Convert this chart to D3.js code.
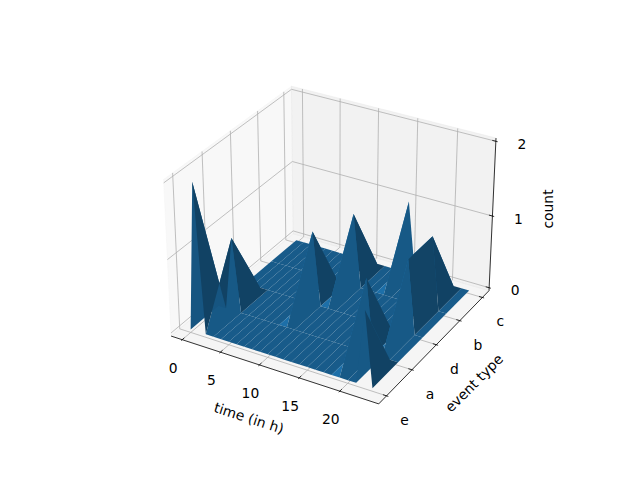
<!DOCTYPE html>
<html>
<head>
<meta charset="utf-8">
<style>html,body{margin:0;padding:0;background:#fff}svg{display:block}text{font-family:"DejaVu Sans",sans-serif;font-size:13.89px;fill:#000}</style>
<script src="https://cdnjs.cloudflare.com/ajax/libs/d3/7.8.5/d3.min.js"></script>
</head>
<body>
<svg id="chart" width="640" height="480"></svg>
<script>
// --- data ---
const hours = [0,1,2,3,4,5,6,7,8,9,10,11,12,13,14,15,16,17,18,19,20,21,22,23];
const rowPositions = [0,1,2,3,4];
const rowFront0 = [0,2,0,0,0,0,0,0,0,0,0,0,0,0,0,0,0,0,0,0,0,0,1,0];
const rowFront1 = [0,0,1,0,0,0,0,0,0,0,0,0,0,0,0,0,0,0,0,1,0,0,0,0];
const rowFront2 = [0,0,0,0,0,0,0,0,0,1,0,0,0,0,0,0,0,0,0,0,0,1,0,0];
const rowFront3 = [0,0,0,0,0,0,0,0,0,0,0,1,0,0,0,0,0,0,0,0,0,1,0,0];
const rowFront4 = [0,0,0,0,0,0,0,0,0,0,0,0,0,0,0,1,0,0,0,0,0,0,0,0];
const counts = [rowFront0,rowFront1,rowFront2,rowFront3,rowFront4];
const xTicks = [0,5,10,15,20];
const yTickPos = [0,1,2,3,4];
const yTickLabels = ["e","a","d","b","c"];
const zTicks = [0,1,2];
const xLabel = "time (in h)", yLabel = "event type", zLabel = "count";

// --- scales & projection (matplotlib style) ---
const xBox = [-1.47,24.7], yBox = [-0.3,4.3], zBox = [-0.042,2.042];
const norm = Math.hypot(4,4,3), k = 1.8294640721620434*25/24/norm;
const aspect = [4*k,4*k,3*k];
const sx = d3.scaleLinear().domain(xBox).range([0,aspect[0]]);
const sy = d3.scaleLinear().domain(yBox).range([0,aspect[1]]);
const sz = d3.scaleLinear().domain(zBox).range([0,aspect[2]]);
const elev = 30*Math.PI/180, azim = -60*Math.PI/180, dist = 10;
const R = aspect.map(a=>a/2);
const dir = [Math.cos(elev)*Math.cos(azim),Math.cos(elev)*Math.sin(azim),Math.sin(elev)];
const eye = R.map((r,i)=>r+dist*dir[i]);
const cross=(a,b)=>[a[1]*b[2]-a[2]*b[1],a[2]*b[0]-a[0]*b[2],a[0]*b[1]-a[1]*b[0]];
const dot=(a,b)=>a[0]*b[0]+a[1]*b[1]+a[2]*b[2];
const unit=a=>{const n=Math.hypot(...a);return a.map(v=>v/n)};
const w = unit(dir), u = unit(cross([0,0,1],w)), v = cross(w,u);
const px = d3.scaleLinear().domain([-0.095,0.09]).range([143.2,512.8]);
const py = d3.scaleLinear().domain([-0.095,0.09]).range([427.2,57.6]);
function view(p){
  const q=[sx(p[0])-eye[0],sy(p[1])-eye[1],sz(p[2])-eye[2]];
  return [dot(q,u),dot(q,v),dot(q,w)];
}
function project(p){
  const c=view(p);
  return [px(c[0]/-c[2]),py(c[1]/-c[2])];
}
const depth = p=>view(p)[2];
const svg = d3.select("#chart");
const line = d3.line();
const path3 = pts=>line(pts.map(project));
const [x0,x1]=xBox,[y0,y1]=yBox,[z0,z1]=zBox;

// panes
const panes=[
  {c:"rgba(242,242,242,0.5)",p:[[x0,y0,z0],[x0,y1,z0],[x0,y1,z1],[x0,y0,z1]]},
  {c:"rgba(230,230,230,0.5)",p:[[x0,y1,z0],[x1,y1,z0],[x1,y1,z1],[x0,y1,z1]]},
  {c:"rgba(236,236,236,0.5)",p:[[x0,y0,z0],[x1,y0,z0],[x1,y1,z0],[x0,y1,z0]]}
];
svg.append("g").selectAll("path").data(panes).join("path")
  .attr("d",d=>path3(d.p)+"Z").attr("fill",d=>d.c).attr("stroke",d=>d.c).attr("stroke-width",0.8);

// grid
const grids=[
  ...xTicks.map(t=>[[t,y0,z0],[t,y1,z0],[t,y1,z1]]),
  ...yTickPos.map(t=>[[x1,t,z0],[x0,t,z0],[x0,t,z1]]),
  ...zTicks.map(t=>[[x0,y0,t],[x0,y1,t],[x1,y1,t]])
];
svg.append("g").selectAll("path").data(grids).join("path")
  .attr("d",path3).attr("fill","none").attr("stroke","#b0b0b0").attr("stroke-width",0.8);

// axis lines & ticks
const axisLines=[[[x0,y0,z0],[x1,y0,z0]],[[x1,y0,z0],[x1,y1,z0]],[[x1,y1,z0],[x1,y1,z1]]];
const dy=(y1-y0)/12, dx=(x1-x0)/12;
const tickLines=[
  ...xTicks.map(t=>[[t,y0-0.1*dy,z0],[t,y0+0.2*dy,z0]]),
  ...yTickPos.map(t=>[[x1+0.1*dx,t,z0],[x1-0.2*dx,t,z0]]),
  ...zTicks.map(t=>[[x1+0.1*dx,y1,t],[x1-0.2*dx,y1,t]])
];
svg.append("g").selectAll("path").data([...axisLines,...tickLines]).join("path")
  .attr("d",path3).attr("fill","none").attr("stroke","#000").attr("stroke-width",0.8);

// surface
const az2=(90-225)*Math.PI/180, alt2=19.4712206*Math.PI/180;
const lightDir=[Math.cos(az2)*Math.cos(alt2),Math.sin(az2)*Math.cos(alt2),Math.sin(alt2)];
const cells=[];
for(let r=0;r<rowPositions.length-1;r++)for(let c=0;c<hours.length-1;c++){
  const P=(i,j)=>[hours[j],rowPositions[i],counts[i][j]];
  const pts=[P(r,c),P(r,c+1),P(r+1,c+1),P(r+1,c)];
  const n=unit(cross([pts[2][0]-pts[0][0],pts[2][1]-pts[0][1],pts[2][2]-pts[0][2]],
                     [pts[3][0]-pts[1][0],pts[3][1]-pts[1][1],pts[3][2]-pts[1][2]]));
  const shade=dot(n,lightDir);
  const f=0.3+0.7*(shade+1)/2;
  const col=d3.rgb(0x1f*f,0x77*f,0xb4*f);
  cells.push({pts,col,d:d3.mean(pts,depth)});
}
cells.sort((a,b)=>d3.ascending(a.d,b.d));
svg.append("g").selectAll("path").data(cells).join("path")
  .attr("d",d=>path3(d.pts)+"Z").attr("fill",d=>d.col).attr("stroke","none");

// tick labels
const lab=svg.append("g").attr("text-anchor","middle").attr("dominant-baseline","central");
lab.selectAll("text.x").data(xTicks).join("text").attr("class","x")
  .attr("x",d=>project([d,y0,z0])[0]-9).attr("y",d=>project([d,y0,z0])[1]+28).text(d=>d);
lab.selectAll("text.y").data(yTickPos).join("text").attr("class","y")
  .attr("x",d=>project([x1,d,z0])[0]+18).attr("y",d=>project([x1,d,z0])[1]+24).text((d,i)=>yTickLabels[i]);
lab.selectAll("text.z").data(zTicks).join("text").attr("class","z")
  .attr("x",d=>project([x1,y1,d])[0]+26).attr("y",d=>project([x1,y1,d])[1]+2.5).text(d=>d);
// axis labels
const al=[{t:xLabel,x:249,y:418,r:18},{t:yLabel,x:474,y:383,r:-45},{t:zLabel,x:548,y:209,r:-90}];
lab.selectAll("text.a").data(al).join("text").attr("class","a")
  .attr("transform",d=>`translate(${d.x},${d.y}) rotate(${d.r})`).text(d=>d.t);
</script>
</body>
</html>
